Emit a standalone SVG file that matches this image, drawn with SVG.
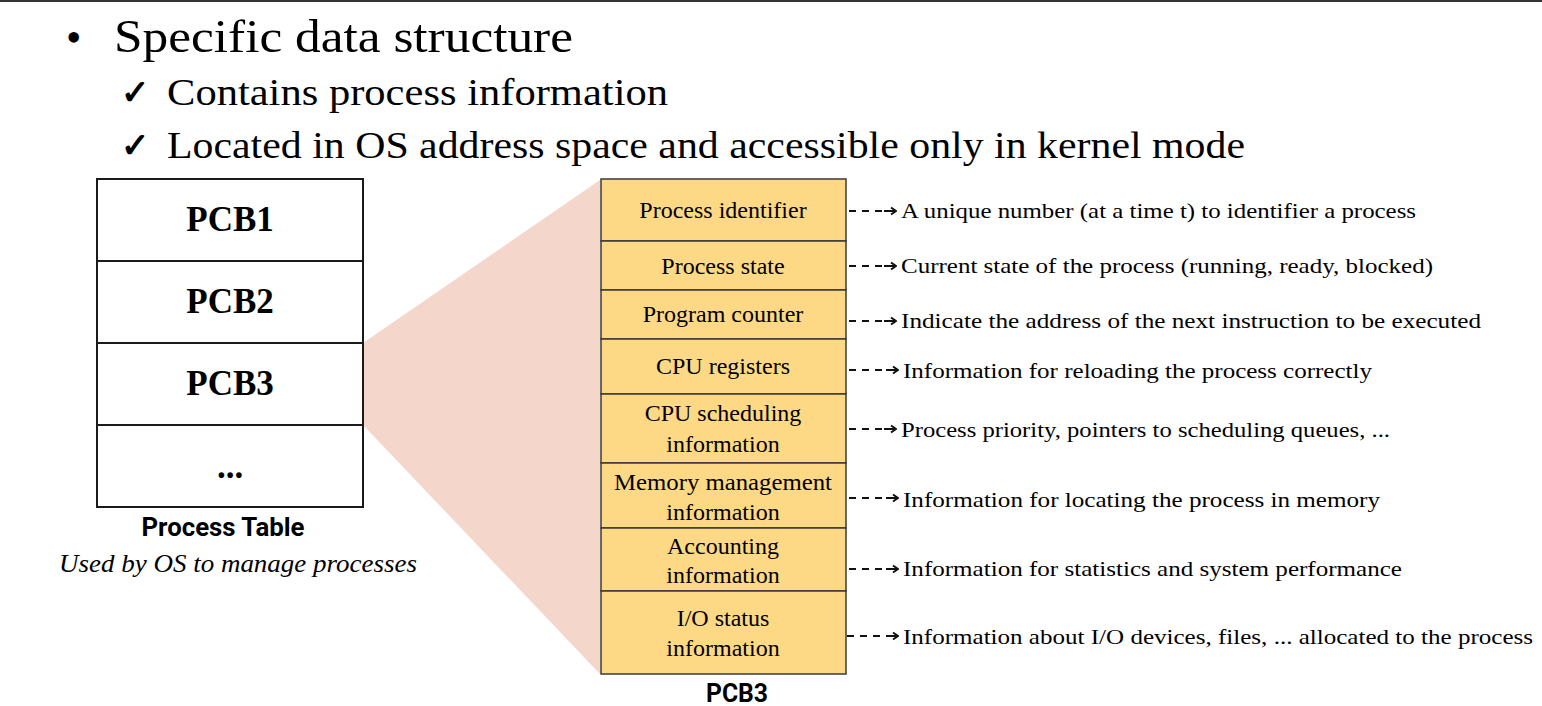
<svg xmlns="http://www.w3.org/2000/svg" width="1542" height="706" viewBox="0 0 1542 706">
<style>
.t{font-family:"Liberation Serif","DejaVu Serif",serif;fill:#000}
.h{font-size:46px}
.s{font-size:38px}
.f{font-size:24px;text-anchor:middle}
.d{font-size:22px}
.pcb{font-family:"Liberation Serif",serif;font-weight:bold;font-size:35px;text-anchor:middle}
.cap{font-family:"Liberation Sans Narrow","Roboto","Liberation Sans",sans-serif;font-weight:bold;font-size:26px;text-anchor:middle}
.row{fill:#fed985;stroke:#3a3a3a;stroke-width:1.5}
.cell{fill:#fff;stroke:#1a1a1a;stroke-width:2}
.conn line{stroke:#111;stroke-width:2;stroke-dasharray:7 6}
</style>
<defs>
<marker id="ah" viewBox="0 0 13 10" refX="0" refY="5" markerWidth="13" markerHeight="10" markerUnits="userSpaceOnUse" orient="auto">
<path d="M0,5 H12 M7,1.5 L12,5 L7,8.5" fill="none" stroke="#111" stroke-width="2"/>
</marker>
</defs>
<rect x="0" y="0" width="1542" height="2" fill="#333"/>
<g id="bullets">
<text class="t" x="66" y="52" style="font-size:44px">•</text>
<text class="t h" x="114" y="52" textLength="459" lengthAdjust="spacingAndGlyphs">Specific data structure</text>
<text class="t" x="121" y="104" style="font-size:34px;font-weight:bold">✓</text>
<text class="t s" x="167" y="105" textLength="501" lengthAdjust="spacingAndGlyphs">Contains process information</text>
<text class="t" x="121" y="157" style="font-size:34px;font-weight:bold">✓</text>
<text class="t s" x="167" y="158" textLength="1078" lengthAdjust="spacingAndGlyphs">Located in OS address space and accessible only in kernel mode</text>
</g>
<polygon id="zoom-wedge" points="363,343 600,180 600,674 363,425" fill="#f4d6cb"/>
<g id="process-table">
<rect class="cell" x="97" y="179" width="266" height="82"/>
<rect class="cell" x="97" y="261" width="266" height="82"/>
<rect class="cell" x="97" y="343" width="266" height="82"/>
<rect class="cell" x="97" y="425" width="266" height="82"/>
<text class="pcb" x="230" y="231">PCB1</text>
<text class="pcb" x="230" y="313">PCB2</text>
<text class="pcb" x="230" y="395">PCB3</text>
<text class="pcb" x="230" y="478">...</text>
<text class="cap" x="223" y="536" textLength="163" lengthAdjust="spacingAndGlyphs">Process Table</text>
<text class="t" x="238" y="572" style="font-size:25px;font-style:italic;text-anchor:middle" textLength="358" lengthAdjust="spacingAndGlyphs">Used by OS to manage processes</text>
</g>
<g id="pcb3">
<rect class="row" x="601" y="179" width="245" height="62"/>
<rect class="row" x="601" y="241" width="245" height="49"/>
<rect class="row" x="601" y="290" width="245" height="49"/>
<rect class="row" x="601" y="339" width="245" height="55"/>
<rect class="row" x="601" y="394" width="245" height="69"/>
<rect class="row" x="601" y="463" width="245" height="65"/>
<rect class="row" x="601" y="528" width="245" height="63"/>
<rect class="row" x="601" y="591" width="245" height="83"/>
<text class="t f" x="723" y="218">Process identifier</text>
<text class="t f" x="723" y="274">Process state</text>
<text class="t f" x="723" y="322">Program counter</text>
<text class="t f" x="723" y="374">CPU registers</text>
<text class="t f" x="723" y="421">CPU scheduling</text>
<text class="t f" x="723" y="452">information</text>
<text class="t f" x="723" y="490" textLength="218" lengthAdjust="spacingAndGlyphs">Memory management</text>
<text class="t f" x="723" y="520">information</text>
<text class="t f" x="723" y="554">Accounting</text>
<text class="t f" x="723" y="583">information</text>
<text class="t f" x="723" y="626">I/O status</text>
<text class="t f" x="723" y="656">information</text>
<text class="cap" x="737" y="702" textLength="62" lengthAdjust="spacingAndGlyphs">PCB3</text>
</g>
<g id="connectors" class="conn">
<line x1="849" y1="211" x2="884" y2="211" marker-end="url(#ah)"/>
<line x1="849" y1="266" x2="884" y2="266" marker-end="url(#ah)"/>
<line x1="849" y1="321" x2="884" y2="321" marker-end="url(#ah)"/>
<line x1="849" y1="370" x2="886" y2="370" marker-end="url(#ah)"/>
<line x1="849" y1="429" x2="884" y2="429" marker-end="url(#ah)"/>
<line x1="849" y1="498" x2="886" y2="498" marker-end="url(#ah)"/>
<line x1="849" y1="569" x2="886" y2="569" marker-end="url(#ah)"/>
<line x1="847" y1="636" x2="886" y2="636" marker-end="url(#ah)"/>
</g>
<g id="descriptions">
<text class="t d" x="901" y="218" textLength="515" lengthAdjust="spacingAndGlyphs">A unique number (at a time t) to identifier a process</text>
<text class="t d" x="901" y="273" textLength="532" lengthAdjust="spacingAndGlyphs">Current state of the process (running, ready, blocked)</text>
<text class="t d" x="901" y="328" textLength="580" lengthAdjust="spacingAndGlyphs">Indicate the address of the next instruction to be executed</text>
<text class="t d" x="903" y="378" textLength="469" lengthAdjust="spacingAndGlyphs">Information for reloading the process correctly</text>
<text class="t d" x="901" y="437" textLength="489" lengthAdjust="spacingAndGlyphs">Process priority, pointers to scheduling queues, ...</text>
<text class="t d" x="903" y="507" textLength="477" lengthAdjust="spacingAndGlyphs">Information for locating the process in memory</text>
<text class="t d" x="903" y="576" textLength="499" lengthAdjust="spacingAndGlyphs">Information for statistics and system performance</text>
<text class="t d" x="903" y="644" textLength="630" lengthAdjust="spacingAndGlyphs">Information about I/O devices, files, ... allocated to the process</text>
</g>
</svg>
